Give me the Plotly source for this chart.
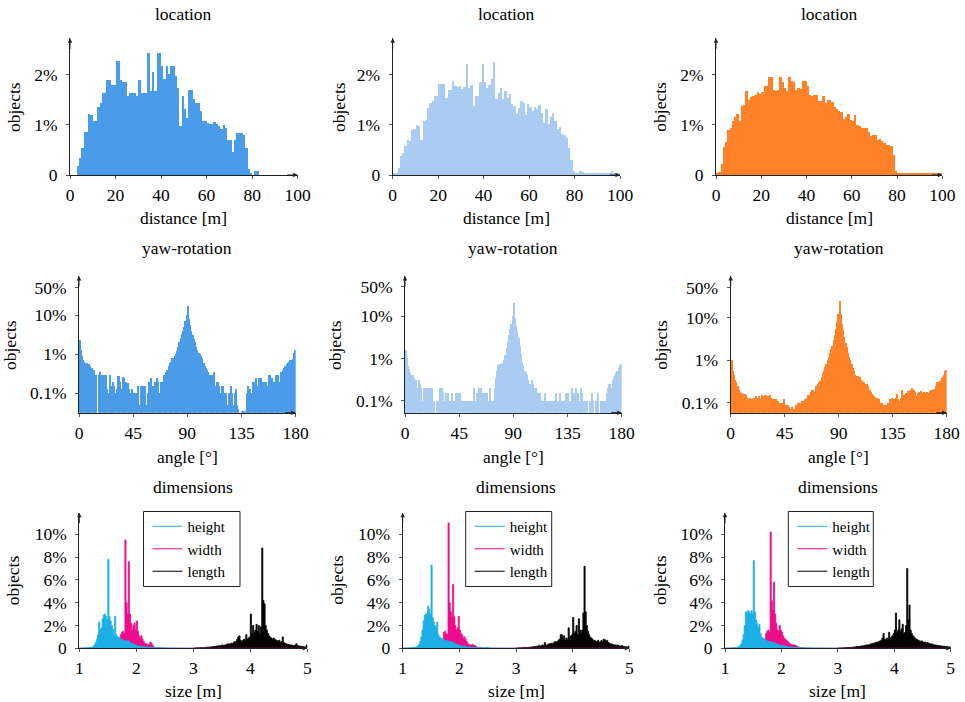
import plotly.graph_objects as go

W, H = 965, 702
FONT = "Liberation Serif"
FS = 17.5
LEG_FS = 15

# ---------------- data (values in percent of objects) ----------------
loc_start = 0.0
loc_step = 1.0
loc_ticks = [0, 20, 40, 60, 80, 100]
loc_a = [0, 0, 0, 0.17, 0.33, 0.54, 0.85, 0.85, 1.22, 1.19,
         1.07, 1.07, 1.36, 1.43, 1.64, 1.64, 1.9, 1.9, 1.79, 1.79,
         2.27, 2.27, 1.9, 1.85, 1.85, 1.58, 1.64, 1.64, 1.64, 1.58,
         1.9, 1.64, 1.64, 1.64, 2.43, 1.68, 2.05, 1.68, 2.43, 2.43,
         2.17, 1.91, 2.17, 2.01, 2.17, 2.17, 1.98, 1.74, 0.97, 1.58,
         1.31, 1.14, 1.69, 1.69, 1.51, 1.44, 1.44, 1.28, 1.07, 1.07,
         1.04, 1.02, 1.02, 1.05, 1.01, 0.97, 0.92, 0.99, 0.94, 0.7,
         0.7, 0.45, 0.7, 0.84, 0.84, 0.84, 0.8, 0.54, 0.11, 0.03,
         0, 0.07, 0.07, 0, 0, 0, 0, 0, 0, 0,
         0, 0, 0, 0, 0, 0, 0, 0, 0, 0]
loc_b = [0.02, 0.03, 0.13, 0.37, 0.44, 0.57, 0.7, 0.67, 0.9, 0.92,
         0.99, 0.97, 0.7, 1.07, 1.1, 1.33, 1.44, 1.47, 1.58, 1.58,
         1.81, 1.81, 1.81, 1.54, 1.7, 1.7, 1.88, 1.78, 1.75, 1.78,
         1.71, 1.75, 2.21, 1.74, 1.79, 1.38, 1.58, 1.58, 1.85, 2.21,
         1.86, 1.74, 1.79, 1.91, 2.25, 1.51, 1.63, 1.74, 1.51, 1.68,
         1.54, 1.61, 1.41, 1.38, 1.21, 1.34, 1.48, 1.44, 1.19, 1.41,
         1.36, 1.28, 1.36, 1.31, 1.39, 1.24, 1.04, 1.32, 1.01, 1.16,
         1.24, 1.07, 0.92, 0.96, 0.82, 0.79, 0.74, 0.54, 0.3, 0.07,
         0.02, 0.03, 0.07, 0.05, 0.04, 0.02, 0.03, 0.02, 0.02, 0.03,
         0.03, 0.02, 0.03, 0.03, 0.02, 0.02, 0.07, 0.04, 0.03, 0.02]
loc_c = [0.03, 0.05, 0.22, 0.55, 0.65, 0.9, 0.93, 1.08, 1.15, 1.22,
         1.08, 1.37, 1.4, 1.68, 1.5, 1.55, 1.58, 1.6, 1.66, 1.62,
         1.65, 1.77, 1.77, 1.95, 1.95, 1.7, 1.68, 1.7, 1.95, 1.85,
         1.73, 1.67, 1.95, 1.88, 1.85, 1.7, 1.73, 1.72, 1.88, 1.87,
         1.78, 1.6, 1.58, 1.6, 1.6, 1.48, 1.47, 1.58, 1.44, 1.49,
         1.5, 1.45, 1.35, 1.32, 1.28, 1.25, 1.12, 1.15, 1.22, 1.1,
         1.07, 1.2, 1.0, 0.97, 0.93, 0.93, 0.93, 0.85, 0.78, 0.79,
         0.79, 0.7, 0.72, 0.68, 0.63, 0.6, 0.6, 0.57, 0.4, 0.08,
         0.03, 0.02, 0.03, 0.03, 0.02, 0.02, 0.02, 0.02, 0.03, 0.02,
         0.02, 0.02, 0.02, 0.02, 0.02, 0.02, 0.02, 0.02, 0.02, 0.02]

yaw_start = 0.0
yaw_step = 1.0
yaw_ticks = [0, 45, 90, 135, 180]
yaw_a = [2.3, 1.3, 0.9, 0.7, 0.65, 0.6, 0.6, 0.35, 0.55, 0.5,
         0.45, 0.4, 0.4, 0.3, 0.3, 0, 0.3, 0.35, 0.25, 0.3,
         0.3, 0.25, 0.3, 0.13, 0.1, 0.3, 0.15, 0.1, 0.2, 0.15,
         0.1, 0.13, 0.28, 0.28, 0.2, 0.13, 0.26, 0.24, 0.2, 0.2,
         0.18, 0.13, 0.1, 0.1, 0.13, 0.1, 0.1, 0.1, 0.1, 0.15,
         0.05, 0.15, 0.15, 0.15, 0.15, 0, 0.05, 0.1, 0.2, 0.25,
         0.13, 0.15, 0.1, 0.2, 0.25, 0.2, 0.1, 0.1, 0.2, 0.2,
         0.3, 0.3, 0.35, 0.4, 0.5, 0.6, 0.65, 0.8, 0.8, 0.9,
         1.0, 1.2, 1.5, 2.0, 2.6, 3.2, 4.0, 5.0, 7.0, 10.0,
         17.0, 8.0, 5.5, 4.0, 3.0, 2.4, 2.0, 1.5, 1.3, 1.1,
         1.0, 0.9, 0.8, 0.6, 0.5, 0.45, 0.4, 0.35, 0.3, 0.3,
         0.3, 0.25, 0.35, 0.15, 0.2, 0.2, 0.15, 0.1, 0.15, 0.15,
         0.05, 0.1, 0.1, 0.05, 0.1, 0.1, 0.15, 0.1, 0.05, 0.1,
         0.13, 0.05, 0.04, 0, 0, 0.035, 0.035, 0.035, 0.035, 0.1,
         0.15, 0.1, 0.13, 0.1, 0.2, 0.2, 0.15, 0.25, 0.15, 0.25,
         0.2, 0.25, 0.2, 0.2, 0.2, 0.2, 0.15, 0.3, 0.3, 0.25,
         0.25, 0.2, 0.2, 0.3, 0.2, 0.3, 0.2, 0.35, 0.3, 0.4,
         0.45, 0.5, 0.55, 0.6, 0.65, 0.7, 0.7, 0.75, 1.1, 1.3]
yaw_b = [1.6, 1.0, 0.65, 0.55, 0.45, 0.4, 0.4, 0.35, 0.3, 0.3,
         0.2, 0.3, 0.25, 0.2, 0.1, 0.2, 0.2, 0.1, 0.2, 0.2,
         0.2, 0.2, 0.2, 0.1, 0.1, 0, 0.1, 0.1, 0.1, 0.2,
         0.2, 0.15, 0.1, 0, 0.15, 0.15, 0.1, 0.1, 0.1, 0.15,
         0.1, 0.1, 0.15, 0.15, 0.15, 0.15, 0.1, 0, 0.1, 0.1,
         0.1, 0.1, 0.1, 0.1, 0.1, 0.1, 0.1, 0.2, 0.1, 0.15,
         0.1, 0.2, 0.2, 0.2, 0.15, 0.1, 0.15, 0.1, 0.15, 0.1,
         0.2, 0.1, 0.1, 0.1, 0.2, 0.35, 0.5, 0.7, 0.72, 0.75,
         0.8, 0.8, 0.9, 1.2, 1.8, 2.5, 3.5, 5.0, 6.5, 10.0,
         20.0, 9.0, 6.0, 4.5, 3.0, 2.0, 1.3, 0.8, 0.7, 0.5,
         0.45, 0.4, 0.3, 0.25, 0.1, 0.3, 0.25, 0.2, 0.2, 0.15,
         0.15, 0.1, 0.15, 0.1, 0.1, 0.1, 0.15, 0.1, 0.1, 0.1,
         0.1, 0, 0.1, 0.1, 0.1, 0.15, 0.1, 0.1, 0.15, 0.1,
         0.1, 0, 0.1, 0.15, 0.1, 0.15, 0.1, 0.1, 0.2, 0.1,
         0.15, 0.1, 0.2, 0.15, 0.1, 0.1, 0.2, 0.15, 0.1, 0.1,
         0.1, 0.1, 0, 0.1, 0.1, 0.15, 0.1, 0, 0.1, 0.1,
         0.15, 0, 0.1, 0.1, 0.1, 0.1, 0.1, 0.15, 0.2, 0.25,
         0.25, 0.2, 0.3, 0.35, 0.4, 0.45, 0.5, 0.6, 0.7, 0.75]
yaw_c = [1.0, 0.55, 0.45, 0.35, 0.3, 0.25, 0.2, 0.18, 0.17, 0.17,
         0.16, 0.16, 0.15, 0.13, 0.12, 0.13, 0.12, 0.1, 0.12, 0.13,
         0.14, 0.12, 0.13, 0.14, 0.12, 0.15, 0.14, 0.12, 0.15, 0.15,
         0.14, 0.13, 0.15, 0.13, 0.12, 0.12, 0.11, 0.12, 0.1, 0.11,
         0.1, 0.09, 0.1, 0.09, 0.12, 0.09, 0.08, 0.09, 0.08, 0.07,
         0.08, 0.07, 0.065, 0.07, 0.09, 0.1, 0.1, 0.1, 0.1, 0.11,
         0.11, 0.12, 0.11, 0.13, 0.15, 0.15, 0.18, 0.2, 0.2, 0.18,
         0.25, 0.25, 0.28, 0.3, 0.33, 0.4, 0.5, 0.55, 0.7, 0.8,
         1.0, 1.2, 1.5, 1.8, 2.2, 3.0, 4.0, 5.5, 8.0, 12.0,
         25.0, 12.0, 7.0, 5.0, 3.5, 2.5, 2.0, 1.5, 1.2, 1.0,
         0.8, 0.65, 0.55, 0.45, 0.42, 0.42, 0.4, 0.4, 0.35, 0.33,
         0.3, 0.28, 0.28, 0.27, 0.25, 0.2, 0.18, 0.16, 0.15, 0.14,
         0.13, 0.13, 0.12, 0.12, 0.1, 0.1, 0.09, 0.09, 0.085, 0.09,
         0.1, 0.1, 0.12, 0.12, 0.13, 0.12, 0.1, 0.13, 0.16, 0.12,
         0.11, 0.13, 0.2, 0.14, 0.15, 0.17, 0.15, 0.19, 0.17, 0.2,
         0.22, 0.16, 0.2, 0.18, 0.14, 0.17, 0.18, 0.16, 0.19, 0.17,
         0.18, 0.16, 0.17, 0.18, 0.17, 0.19, 0.2, 0.2, 0.19, 0.21,
         0.25, 0.3, 0.3, 0.28, 0.33, 0.38, 0.4, 0.45, 0.55, 0.6]

dim_step = 0.02
tail_step = 0.1
height_start = 1.0
width_start = 1.0
length_start = 3.0
dim_ticks = [1, 2, 3, 4, 5]

height_a = [0.02, 0.02, 0.03, 0.03, 0.03, 0.04, 0.05, 0.05, 0.06, 0.08,
            0.1, 0.12, 0.2, 0.3, 0.5, 0.8, 1.2, 2.3, 1.6, 1.8,
            2.6, 2.9, 3.0, 2.8, 2.5, 7.8, 2.8, 2.4, 2.0, 1.7,
            1.2, 2.8, 1.2, 1.0, 1.0, 0.9, 0.8, 0.75, 0.7, 0.7,
            0.6, 0.65, 0.7, 0.6, 0.5, 0.45, 0.4, 0.35, 0.3, 0.3,
            0.25, 0.2, 0.2, 0.18, 0.16, 0.15, 0.14, 0.12, 0.12, 0.1,
            0.1, 0.09, 0.08, 0.08, 0.07, 0.07, 0.06, 0.06, 0.05, 0.05,
            0.05, 0.05, 0.04, 0.04, 0.04, 0.04, 0.03, 0.03, 0.03, 0.03,
            0.03, 0.03, 0.03, 0.02, 0.02, 0.02, 0.02, 0.02, 0.02, 0.02,
            0.02, 0.02, 0.02, 0.02, 0.01, 0.01, 0.01, 0.01, 0.01, 0.01]
height_b = [0.02, 0.02, 0.03, 0.03, 0.03, 0.04, 0.04, 0.05, 0.06, 0.07,
            0.08, 0.1, 0.15, 0.2, 0.35, 0.6, 1.0, 1.6, 2.4, 2.9,
            3.0, 3.0, 3.7, 3.4, 3.0, 7.3, 2.7, 2.3, 2.0, 1.8,
            2.3, 1.2, 1.0, 0.9, 0.85, 0.8, 0.75, 0.7, 0.7, 0.65,
            0.6, 0.6, 0.6, 0.55, 0.5, 0.45, 0.4, 0.35, 0.3, 0.28,
            0.25, 0.22, 0.2, 0.18, 0.16, 0.14, 0.13, 0.12, 0.1, 0.1,
            0.09, 0.08, 0.08, 0.07, 0.07, 0.06, 0.06, 0.05, 0.05, 0.05,
            0.05, 0.04, 0.04, 0.04, 0.1, 0.04, 0.03, 0.03, 0.03, 0.03,
            0.03, 0.03, 0.02, 0.02, 0.02, 0.02, 0.02, 0.02, 0.02, 0.02,
            0.02, 0.02, 0.02, 0.01, 0.01, 0.01, 0.01, 0.01, 0.01, 0.01]
height_c = [0.02, 0.02, 0.02, 0.03, 0.03, 0.03, 0.04, 0.04, 0.05, 0.06,
            0.08, 0.1, 0.15, 0.25, 0.4, 0.7, 1.2, 2.0, 3.2, 3.0,
            3.3, 3.2, 3.0, 3.3, 3.0, 7.7, 3.2, 2.5, 2.2, 1.8,
            2.1, 1.3, 1.0, 0.9, 0.85, 0.8, 0.7, 0.65, 0.6, 0.6,
            0.55, 0.55, 0.5, 0.5, 0.45, 0.4, 0.35, 0.3, 0.28, 0.25,
            0.25, 0.22, 0.2, 0.18, 0.16, 0.14, 0.13, 0.12, 0.1, 0.1,
            0.09, 0.08, 0.08, 0.07, 0.07, 0.06, 0.06, 0.05, 0.05, 0.05,
            0.05, 0.04, 0.04, 0.04, 0.04, 0.04, 0.03, 0.03, 0.03, 0.03,
            0.03, 0.03, 0.02, 0.02, 0.02, 0.02, 0.02, 0.02, 0.02, 0.02,
            0.02, 0.02, 0.02, 0.01, 0.01, 0.01, 0.01, 0.01, 0.01, 0.01]

width_a = [0.01, 0.01, 0.01, 0.01, 0.01, 0.01, 0.01, 0.01, 0.01, 0.01,
           0.01, 0.01, 0.01, 0.01, 0.01, 0.01, 0.01, 0.01, 0.01, 0.01,
           0.01, 0.01, 0.01, 0.01, 0.01, 0.02, 0.03, 0.04, 0.06, 0.08,
           0.1, 0.15, 0.2, 0.3, 0.4, 0.6, 1.2, 1.4, 1.5, 1.3,
           9.5, 4.0, 3.0, 7.6, 3.0, 2.2, 1.6, 2.0, 2.2, 1.6,
           2.4, 1.5, 1.1, 0.9, 1.1, 0.8, 0.6, 0.45, 0.4, 0.35,
           0.3, 0.35, 0.55, 0.4, 0.25, 0.12, 0.08, 0.06, 0.05, 0.04,
           0.04, 0.03, 0.03, 0.02, 0.02, 0.02, 0.02, 0.01, 0.01, 0.01]
width_b = [0.01, 0.01, 0.01, 0.01, 0.01, 0.01, 0.01, 0.01, 0.01, 0.01,
           0.01, 0.01, 0.01, 0.01, 0.01, 0.01, 0.01, 0.01, 0.01, 0.01,
           0.01, 0.01, 0.01, 0.01, 0.01, 0.02, 0.03, 0.04, 0.05, 0.07,
           0.1, 0.15, 0.2, 0.3, 0.45, 0.7, 1.4, 1.5, 1.3, 1.2,
           11.0, 4.0, 3.2, 2.8, 5.6, 2.8, 2.0, 1.6, 1.8, 2.8,
           1.6, 1.3, 1.2, 0.9, 1.0, 0.8, 0.6, 0.45, 0.35, 0.3,
           0.3, 0.35, 0.3, 0.25, 0.2, 0.12, 0.08, 0.06, 0.05, 0.04,
           0.04, 0.03, 0.03, 0.02, 0.02, 0.02, 0.02, 0.01, 0.01, 0.01]
width_c = [0.01, 0.01, 0.01, 0.01, 0.01, 0.01, 0.01, 0.01, 0.01, 0.01,
           0.01, 0.01, 0.01, 0.01, 0.01, 0.01, 0.01, 0.01, 0.01, 0.01,
           0.01, 0.01, 0.01, 0.01, 0.01, 0.02, 0.03, 0.04, 0.06, 0.08,
           0.1, 0.15, 0.2, 0.3, 0.5, 0.8, 1.3, 1.5, 1.6, 1.4,
           10.2, 4.2, 3.4, 5.8, 3.0, 2.2, 1.6, 1.5, 2.0, 1.6,
           1.4, 1.1, 0.9, 0.8, 0.7, 0.6, 0.5, 0.4, 0.35, 0.3,
           0.28, 0.3, 0.25, 0.2, 0.15, 0.1, 0.07, 0.05, 0.04, 0.04,
           0.03, 0.03, 0.03, 0.02, 0.02, 0.02, 0.02, 0.01, 0.01, 0.01]
width_tail = [0.01, 0.01, 0.01, 0.01, 0.01, 0.01, 0.01, 0.01, 0.01, 0.01, 0.01, 0.01,
              0.01, 0.01, 0.01, 0.01, 0.01, 0.01, 0.01, 0.01, 0.01, 0.01, 0.01, 0.01]

length_a = [0.03, 0.03, 0.04, 0.04, 0.05, 0.05, 0.06, 0.06, 0.07, 0.08,
            0.08, 0.09, 0.1, 0.1, 0.12, 0.12, 0.13, 0.15, 0.15, 0.17,
            0.2, 0.2, 0.22, 0.25, 0.22, 0.3, 0.25, 0.28, 0.3, 0.35,
            0.4, 0.35, 0.4, 0.45, 0.4, 0.5, 0.6, 0.5, 0.8, 1.0,
            1.1, 0.7, 0.6, 0.7, 0.8, 0.7, 1.2, 0.8, 0.9, 1.0,
            3.0, 1.3, 2.0, 1.4, 1.6, 2.1, 1.5, 2.0, 1.3, 1.9,
            8.8, 4.2, 3.9, 2.0, 1.6, 1.3, 1.1, 1.0, 0.9, 0.8,
            0.9, 0.8, 0.7, 0.7, 0.6, 0.7, 0.5, 0.6, 1.0, 0.5,
            0.45, 0.4, 0.35, 0.35, 0.3, 0.3, 0.28, 0.25, 0.25, 0.3,
            0.4, 0.25, 0.2, 0.2, 0.18, 0.15, 0.15, 0.12, 0.12, 0.3]
length_b = [0.03, 0.03, 0.04, 0.04, 0.05, 0.05, 0.06, 0.06, 0.07, 0.08,
            0.08, 0.09, 0.1, 0.12, 0.12, 0.14, 0.15, 0.16, 0.18, 0.2,
            0.25, 0.2, 0.22, 0.3, 0.25, 0.5, 0.3, 0.3, 0.35, 0.4,
            0.4, 0.45, 0.4, 0.5, 0.6, 0.55, 0.6, 0.7, 0.8, 1.2,
            1.2, 0.8, 1.1, 0.7, 0.9, 0.8, 1.8, 1.0, 1.1, 1.2,
            2.7, 1.3, 1.5, 2.0, 1.2, 2.6, 1.6, 1.4, 1.6, 3.1,
            7.2, 3.2, 2.0, 1.5, 1.2, 1.0, 0.9, 0.8, 0.7, 0.7,
            0.6, 0.6, 0.7, 0.5, 0.6, 0.7, 0.6, 0.8, 0.75, 0.6,
            0.7, 0.5, 0.45, 0.4, 0.35, 0.35, 0.3, 0.3, 0.25, 0.3,
            0.25, 0.2, 0.2, 0.25, 0.18, 0.15, 0.15, 0.12, 0.12, 0.2]
length_c = [0.03, 0.03, 0.03, 0.04, 0.04, 0.05, 0.05, 0.06, 0.06, 0.07,
            0.08, 0.08, 0.09, 0.1, 0.11, 0.12, 0.14, 0.15, 0.16, 0.18,
            0.2, 0.2, 0.22, 0.25, 0.25, 0.3, 0.28, 0.3, 0.35, 0.4,
            0.4, 0.45, 0.45, 0.5, 0.55, 0.5, 0.6, 0.65, 0.7, 0.9,
            1.3, 0.8, 0.8, 0.9, 0.8, 1.4, 0.9, 1.0, 1.1, 1.3,
            1.6, 3.1, 1.4, 1.6, 2.5, 1.5, 1.7, 2.1, 1.3, 1.4,
            2.0, 7.0, 2.5, 3.8, 1.6, 1.3, 1.1, 1.0, 0.9, 0.8,
            0.75, 0.7, 0.65, 0.6, 0.65, 0.55, 0.5, 0.55, 0.45, 0.5,
            0.45, 0.4, 0.4, 0.35, 0.35, 0.3, 0.3, 0.28, 0.25, 0.25,
            0.22, 0.2, 0.2, 0.18, 0.18, 0.15, 0.15, 0.13, 0.12, 0.12]

series_names = ["height", "width", "length"]
titles = ["location", "yaw-rotation", "dimensions"]
xlabels = ["distance [m]", "angle [°]", "size [m]"]
ylabel = "objects"

# ---------------- styles ----------------
col_colors = ["#4A9CEA", "#AACCF2", "#FF8228"]
dim_colors = {"height": "#1CAFE5", "width": "#EC0C8C", "length": "#000000"}
AXC = "#222222"

# panel geometry in pixels: x0, x1, ytop, ybottom
geom = {
    1: (70, 297.7, 38.3, 175), 2: (392.7, 620, 38.3, 175), 3: (716, 942.3, 38.3, 175),
    4: (79, 295.7, 276, 412.7), 5: (405, 621.7, 276, 412.7), 6: (730.7, 946.7, 276, 412.7),
    7: (79.3, 307.3, 512.7, 648.3), 8: (402.7, 629.3, 512.7, 648.3), 9: (725, 950.7, 512.7, 648.3),
}
yaw_log_range = {4: [-1.494, 1.996], 5: [-1.286, 1.952], 6: [-1.235, 1.98]}
ylab_pos = {1: (13.3, 106.7), 2: (338.3, 106.7), 3: (660, 106.7),
            4: (10, 345), 5: (335, 345), 6: (660.7, 345),
            7: (13.3, 580), 8: (336.7, 580), 9: (660, 580)}
title_y = [14, 248, 487]
xlab_y = [217.5, 456.5, 691]
# legend frames (px): left, right, top, bottom
legend_box = {7: (143.5, 240, 511.5, 586.5), 8: (465.7, 551.7, 511.5, 586.5),
              9: (788.3, 873.3, 511.5, 586.5)}


def px(p):
    return p / W


def py(p):
    return 1 - p / H


def sid(k):
    return "" if k == 1 else str(k)


fig = go.Figure()
font = dict(family=FONT, size=FS, color="black")

# row 1 and row 2: bar histograms
for j, vals in enumerate([loc_a, loc_b, loc_c]):
    k = 1 + j
    fig.add_trace(go.Bar(
        x=[loc_start + (i + 0.5) * loc_step for i in range(len(vals))], y=vals,
        width=loc_step, marker=dict(color=col_colors[j], line=dict(width=0)),
        xaxis="x" + sid(k), yaxis="y" + sid(k), showlegend=False, hoverinfo="skip"))
for j, vals in enumerate([yaw_a, yaw_b, yaw_c]):
    k = 4 + j
    fig.add_trace(go.Bar(
        x=[yaw_start + (i + 0.5) * yaw_step for i in range(len(vals))],
        y=[v if v > 0 else None for v in vals],
        width=yaw_step, marker=dict(color=col_colors[j], line=dict(width=0)),
        xaxis="x" + sid(k), yaxis="y" + sid(k), showlegend=False, hoverinfo="skip"))


def step_xy(start, vals, step, tail=None, tail_step=None):
    xs = [start + i * step for i in range(len(vals))]
    ys = list(vals)
    end = start + len(vals) * step
    if tail:
        xs += [end + i * tail_step for i in range(len(tail))]
        ys += list(tail)
        end = end + len(tail) * tail_step
    xs.append(end)
    ys.append(0)
    return xs, ys


dims = [(height_a, width_a, length_a), (height_b, width_b, length_b), (height_c, width_c, length_c)]
for j, (hv, wv, lv) in enumerate(dims):
    k = 7 + j
    leg = "legend" + sid(j + 1)
    data = {
        "length": step_xy(length_start, lv, dim_step),
        "width": step_xy(width_start, wv, dim_step, width_tail, tail_step),
        "height": step_xy(height_start, hv, dim_step),
    }
    for name in ["length", "width", "height"]:
        xs, ys = data[name]
        c = dim_colors[name]
        fig.add_trace(go.Scatter(
            x=xs, y=ys, mode="lines", line=dict(color=c, width=0.8, shape="hv"),
            fill="tozeroy", fillcolor=c, xaxis="x" + sid(k), yaxis="y" + sid(k),
            showlegend=False, hoverinfo="skip"))
    for name in series_names:
        fig.add_trace(go.Scatter(
            x=[None], y=[None], mode="lines", name=name,
            line=dict(color=dim_colors[name], width=1.2),
            xaxis="x" + sid(k), yaxis="y" + sid(k), legend=leg, showlegend=True))

layout = dict(
    template="none",
    width=W, height=H, margin=dict(l=0, r=0, t=0, b=0, autoexpand=False),
    paper_bgcolor="white", plot_bgcolor="white",
    bargap=0, barmode="overlay", font=font, showlegend=True,
)
annotations = []
shapes = []

for k in range(1, 10):
    x0, x1, yt, yb = geom[k]
    row = (k - 1) // 3
    xa = dict(domain=[px(x0), px(x1)], anchor="y" + sid(k), showgrid=False, zeroline=False,
              showline=True, linecolor=AXC, linewidth=1, ticks="outside", ticklen=3,
              tickcolor="#555555", tickfont=font, fixedrange=True, automargin=False,
              ticklabelstandoff=1)
    ya = dict(domain=[py(yb), py(yt)], anchor="x" + sid(k), showgrid=False, zeroline=False,
              showline=True, linecolor=AXC, linewidth=1, ticks="outside", ticklen=3,
              tickcolor="#555555", tickfont=font, fixedrange=True, automargin=False,
              ticklabelstandoff=5)
    if row == 0:
        xa.update(range=[0, 100], tickvals=loc_ticks, ticktext=[str(t) for t in loc_ticks])
        ya.update(range=[0, 2.73], tickvals=[0, 1, 2], ticktext=["0", "1%", "2%"])
    elif row == 1:
        xa.update(range=[0, 180], tickvals=yaw_ticks, ticktext=[str(t) for t in yaw_ticks])
        ya.update(type="log", range=yaw_log_range[k], tickvals=[0.1, 1, 10, 50],
                  ticktext=["0.1%", "1%", "10%", "50%"])
    else:
        xa.update(range=[1, 5], tickvals=dim_ticks, ticktext=[str(t) for t in dim_ticks])
        ya.update(range=[0, 11.9], tickvals=[0, 2, 4, 6, 8, 10],
                  ticktext=["0", "2%", "4%", "6%", "8%", "10%"])
    layout["xaxis" + str(k)] = xa
    layout["yaxis" + str(k)] = ya

    # axis arrows
    annotations.append(dict(xref="x" + sid(k) + " domain", yref="y" + sid(k) + " domain",
                            x=0, y=1, ax=0, ay=12, axref="pixel", ayref="pixel", text="",
                            showarrow=True, arrowhead=2, arrowsize=0.9, arrowwidth=1,
                            arrowcolor=AXC, standoff=0))
    annotations.append(dict(xref="x" + sid(k) + " domain", yref="y" + sid(k) + " domain",
                            x=1, y=0, ax=-12, ay=0, axref="pixel", ayref="pixel", text="",
                            showarrow=True, arrowhead=2, arrowsize=0.9, arrowwidth=1,
                            arrowcolor=AXC, standoff=0))
    cx = (x0 + x1) / 2
    annotations.append(dict(xref="paper", yref="paper", x=px(cx), y=py(title_y[row]),
                            text=titles[row], showarrow=False, font=font,
                            xanchor="center", yanchor="middle"))
    annotations.append(dict(xref="paper", yref="paper", x=px(cx), y=py(xlab_y[row]),
                            text=xlabels[row], showarrow=False, font=font,
                            xanchor="center", yanchor="middle"))
    lx, ly = ylab_pos[k]
    annotations.append(dict(xref="paper", yref="paper", x=px(lx), y=py(ly),
                            text=ylabel, showarrow=False, font=font, textangle=-90,
                            xanchor="center", yanchor="middle"))

for j, k in enumerate([7, 8, 9]):
    bl, br, bt, bb = legend_box[k]
    shapes.append(dict(type="rect", xref="paper", yref="paper",
                       x0=px(bl), x1=px(br), y0=py(bb), y1=py(bt),
                       fillcolor="white", line=dict(color="#222222", width=1), layer="above"))
    layout["legend" + sid(j + 1)] = dict(
        x=px(bl + 4), y=py(bt - 1.5), xanchor="left", yanchor="top",
        bgcolor="rgba(0,0,0,0)", borderwidth=0,
        font=dict(family=FONT, size=LEG_FS, color="black"),
        tracegroupgap=0, itemwidth=30, traceorder="normal")

layout["annotations"] = annotations
layout["shapes"] = shapes
fig.update_layout(**layout)
fig.write_html("out.html", config={"displayModeBar": False},
               post_script="document.body.style.margin='0';document.body.style.padding='0';")
